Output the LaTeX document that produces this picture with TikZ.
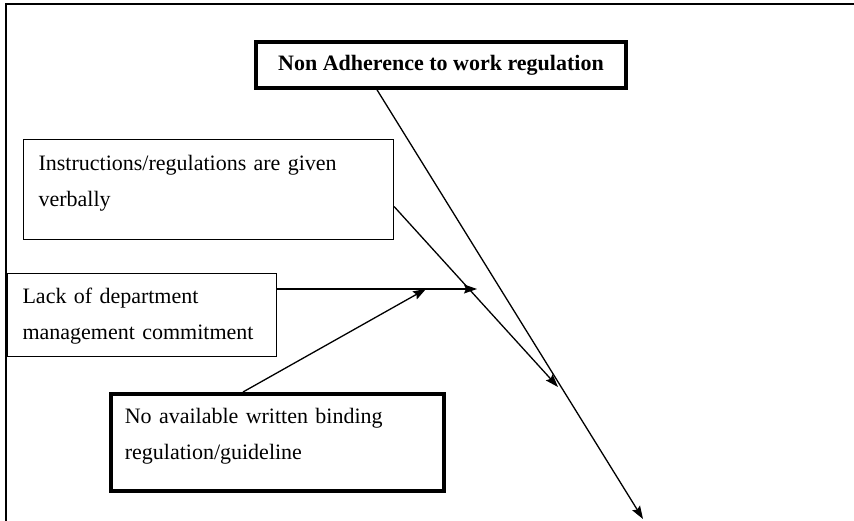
\documentclass[tikz,border=0pt]{standalone}
\usepackage{fontspec}
\setmainfont{Liberation Serif}
\usetikzlibrary{arrows.meta,calc}

\tikzset{
  thinbox/.style={draw, line width=1.1pt, rectangle, anchor=north west, align=left,
    font=\fontsize{22}{36}\selectfont},
  thickbox/.style={draw, line width=3.6pt, rectangle, align=left,
    font=\fontsize{22}{36}\selectfont},
  link/.style={line width=1.3pt, -{Stealth[length=13pt,width=9pt,inset=2pt]}},
  frame/.style={line width=2pt}
}

\begin{document}
\begin{tikzpicture}[x=1pt,y=-1pt]
  \useasboundingbox (0,0) rectangle (854,521);

  % page frame: left and top rules only
  \draw[frame] (6,521) -- (6,4) -- (854,4);

  % effect
  \node[thickbox, minimum width=370pt, minimum height=46pt, inner sep=0pt,
        font=\fontsize{22}{36}\selectfont\bfseries] (title) at (441,65)
        {Non Adherence to work regulation};

  % causes
  \node[thinbox, text width=340pt, inner xsep=15pt, inner ysep=9pt,
        text height=22pt, text depth=60pt] (verbal) at (23,139)
        {Instructions/regulations are given\\verbally};

  \node[thinbox, text width=239pt, inner xsep=15pt, inner ysep=8pt,
        text height=22pt, text depth=45pt] (commit) at (7,273)
        {Lack of department\\management commitment};

  \node[thickbox, anchor=north west, text width=305pt, inner xsep=14pt, inner ysep=8pt,
        text height=22pt, text depth=59pt] (written) at (109,392)
        {No available written binding\\regulation/guideline};

  % arrow end points
  \coordinate (endMain) at (643,519);
  \coordinate (endVerbal) at (558,387);
  \coordinate (endCommit) at (477,289);
  \coordinate (endWritten) at (426,289);

  % connectors
  \draw[link] ([xshift=-64pt]title.south) -- (endMain);
  \draw[link] ([yshift=-17pt]verbal.east) -- (endVerbal);
  \draw[link] ([yshift=-16pt]commit.north east) -- (endCommit);
  \draw[link] ([xshift=134pt]written.north west) -- (endWritten);
\end{tikzpicture}
\end{document}
